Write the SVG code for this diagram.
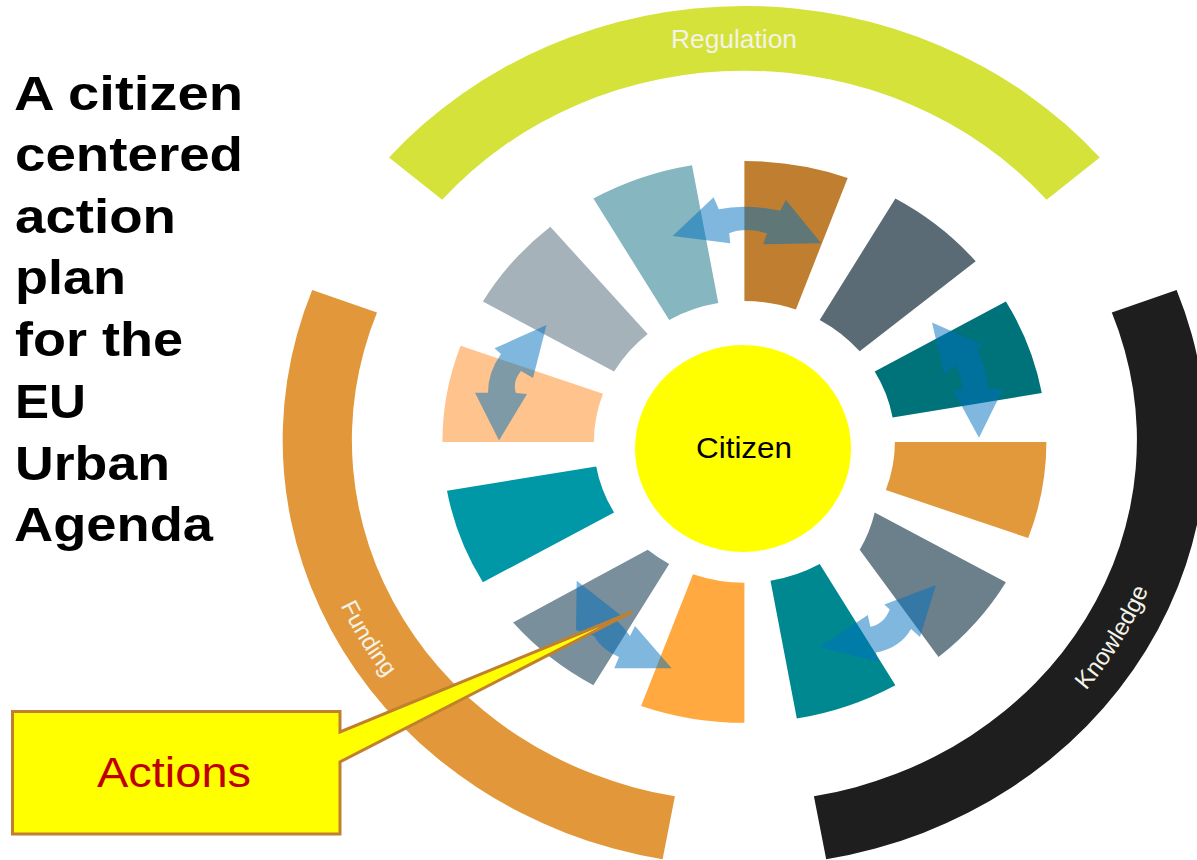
<svg xmlns="http://www.w3.org/2000/svg" width="1197" height="860" viewBox="0 0 1197 860">
<style>
  text { font-family: "Liberation Sans", Arial, sans-serif; }
  .title { font-size: 48px; font-weight: bold; fill: #000000; }
  .ringlabel { fill: #F4F3E8; }
  .arrows path { fill: #0070C0; }
</style>
<defs>
  <path id="fundPath" d="M310.5,362.2 A442 407.7 0 0 0 586.0,820.6"/>
  <path id="knowPath" d="M899.6,817.3 A433 399.4 0 0 0 1170.0,366.5"/>
</defs>
<rect width="1197" height="860" fill="#ffffff"/>

<g id="title">
  <text class="title" x="14" y="109.5" textLength="229" lengthAdjust="spacingAndGlyphs">A citizen</text>
  <text class="title" x="15" y="170.5" textLength="228" lengthAdjust="spacingAndGlyphs">centered</text>
  <text class="title" x="15" y="232.5" textLength="161" lengthAdjust="spacingAndGlyphs">action</text>
  <text class="title" x="15" y="293.5" textLength="111" lengthAdjust="spacingAndGlyphs">plan</text>
  <text class="title" x="15" y="355.5" textLength="168" lengthAdjust="spacingAndGlyphs">for the</text>
  <text class="title" x="15" y="417.5" textLength="71" lengthAdjust="spacingAndGlyphs">EU</text>
  <text class="title" x="15" y="479.5" textLength="155" lengthAdjust="spacingAndGlyphs">Urban</text>
  <text class="title" x="14" y="541.2" textLength="199" lengthAdjust="spacingAndGlyphs">Agenda</text>
</g>

<g id="regulation">
  <path d="M1099.8,157.6 A468 434 0 0 0 389.0,157.6 L442.2,199.7 A398 369.3 0 0 1 1046.6,199.7 Z" fill="#D4E23A"/>
  <text class="ringlabel" x="734" y="48" font-size="26" text-anchor="middle" textLength="126" lengthAdjust="spacingAndGlyphs">Regulation</text>
</g>

<g id="funding">
  <path d="M312.2,290.1 A461.7 426 0 0 0 662.6,859.3 L674.9,796.3 A392.5 362 0 0 1 377.0,312.6 Z" fill="#E2983A"/>
  <text class="ringlabel" font-size="23.5"><textPath href="#fundPath" startOffset="50%" text-anchor="middle">Funding</textPath></text>
</g>

<g id="knowledge">
  <path d="M826.2,859.3 A461.7 426 0 0 0 1176.6,290.1 L1111.8,312.6 A392.5 362 0 0 1 813.9,796.3 Z" fill="#1E1E1E"/>
  <text class="ringlabel" font-size="24"><textPath href="#knowPath" startOffset="50%" text-anchor="middle">Knowledge</textPath></text>
</g>

<g id="segments">
  <path id="seg1" d="M1028.2,538.0 A302 280.9 0 0 0 1046.4,441.9 L894.9,441.9 A150.5 140.9 0 0 1 885.8,490.1 Z" fill="#E2993B"/>
  <path id="seg2" d="M1041.8,393.1 A302 280.9 0 0 0 1005.9,301.5 L874.7,371.5 A150.5 140.9 0 0 1 892.6,417.4 Z" fill="#00727A"/>
  <path id="seg3" d="M975.7,261.3 A302 280.9 0 0 0 895.4,198.6 L819.7,319.9 A150.5 140.9 0 0 1 859.7,351.3 Z" fill="#5A6B75"/>
  <path id="seg4" d="M847.7,177.9 A302 280.9 0 0 0 744.4,161.0 L744.4,301.0 A150.5 140.9 0 0 1 795.9,309.5 Z" fill="#C07F30"/>
  <path id="seg5" d="M692.0,165.3 A302 280.9 0 0 0 593.4,198.6 L669.2,319.9 A150.5 140.9 0 0 1 718.3,303.1 Z" fill="#86B7C0"/>
  <path id="seg6" d="M550.3,226.7 A302 280.9 0 0 0 482.9,301.5 L614.1,371.5 A150.5 140.9 0 0 1 647.7,334.0 Z" fill="#A5B2BA"/>
  <path id="seg7" d="M460.6,345.8 A302 280.9 0 0 0 442.4,441.9 L593.9,441.9 A150.5 140.9 0 0 1 603.0,393.7 Z" fill="#FFC48E"/>
  <path id="seg8" d="M447.0,490.7 A302 280.9 0 0 0 482.9,582.3 L614.1,512.4 A150.5 140.9 0 0 1 596.2,466.4 Z" fill="#0098A7"/>
  <path id="seg9" d="M513.1,622.5 A302 280.9 0 0 0 593.4,685.2 L669.2,564.0 A150.5 140.9 0 0 1 647.7,549.8 Z" fill="#798F9B"/>
  <path id="seg10" d="M641.1,705.9 A302 280.9 0 0 0 744.4,722.8 L744.4,582.8 A150.5 140.9 0 0 1 693.0,574.3 Z" fill="#FFA940"/>
  <path id="seg11" d="M796.8,718.5 A302 280.9 0 0 0 895.4,685.2 L819.7,564.0 A150.5 140.9 0 0 1 770.5,580.7 Z" fill="#008890"/>
  <path id="seg12" d="M938.5,657.1 A302 280.9 0 0 0 1005.9,582.3 L874.7,512.4 A150.5 140.9 0 0 1 859.7,549.8 Z" fill="#6C808B"/>
</g>

<g id="connectors" class="arrows" opacity="0.5">
  <path d="M672.6,236 L713.6,197.3 L718.8,209.3 Q745,203.4 780.2,210.7 L785.9,200 L821.2,243.3 L763.2,244.3 L767,233.3 Q745,226.7 729.2,233.3 L730.2,243.3 Z"/>
  <path d="M546.5,325 L533,378 L521,371 Q512,382 516,393 L527,394 L499,440.5 L475,392.7 L488,392.7 Q488,372 501,354 L494.6,348.3 Z"/>
  <path d="M932,322.6 L983,345 L977,349.4 Q986,368 988.3,389 L1003,389 L979,437.7 L953,390 L962.7,390 Q961,376 955.7,365.3 L944,374 Z"/>
  <path d="M820,647 L867.8,615 L870.4,626.7 Q884,624 889.7,609.4 L884.3,604.5 L936,585 L920,637 L911.1,628.9 Q900,648 876,652.4 L878,661.7 Z"/>
  <path d="M576.7,580.7 L621.7,616 L616,620 Q624,627 630,636 L635,626 L671.7,668.3 L614.3,668.3 L619,657 Q602,650 594,636 L576,630 Z"/>
</g>

<g id="citizen">
  <ellipse cx="743" cy="448.5" rx="108" ry="103.5" fill="#FFFF00"/>
  <text x="744" y="458.3" font-size="30" text-anchor="middle" textLength="96" lengthAdjust="spacingAndGlyphs" fill="#000000">Citizen</text>
</g>

<g id="actions">
  <path d="M12.5,711.5 H340 V732 L632,612 L340,762 V834 H12.5 Z" fill="#FFFF00" stroke="#C0802F" stroke-width="3" stroke-linejoin="miter"/>
  <text x="174" y="786.8" font-size="42" text-anchor="middle" textLength="154" lengthAdjust="spacingAndGlyphs" fill="#C00000">Actions</text>
</g>
</svg>
